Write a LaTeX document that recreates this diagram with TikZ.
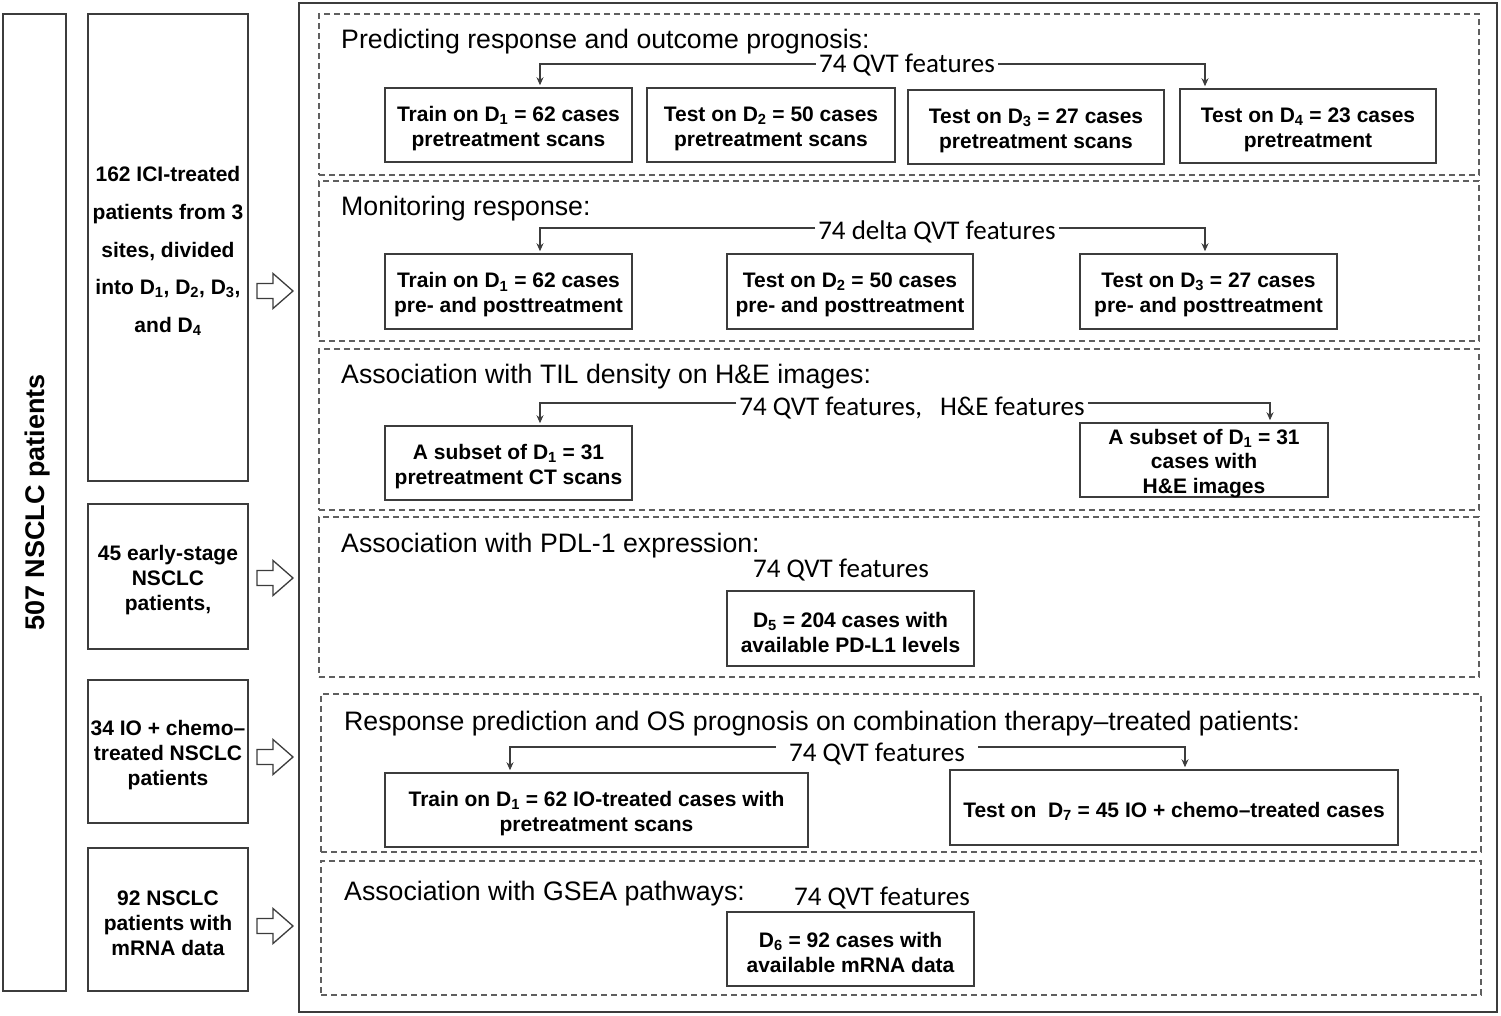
\documentclass[tikz,border=0pt]{standalone}
\usepackage{fontspec}
\setmainfont{Liberation Sans}
\newfontfamily\calfont{Carlito}
\usetikzlibrary{arrows.meta}
\definecolor{linec}{RGB}{60,60,60}
\definecolor{dashc}{RGB}{95,95,95}
\newcommand\Dsb[1]{D\textsubscript{#1}}
\newcommand\cbox[7][]{\node[#1, minimum width={(#5-#3)*1pt}, minimum height={(#6-#4)*1pt}] (#2) at ({(#3+#5)/2},{(#4+#6)/2}) {};
  \node[#1, draw=none, minimum width=0pt, minimum height=0pt] (#2t) at ([yshift=-3.5pt]#2.center) {#7};}
\newcommand\harrow[1]{\draw[hol] (257,{#1-7.5}) -- (273,{#1-7.5}) -- (273,{#1-17.5}) -- (293,#1) -- (273,{#1+17.5}) -- (273,{#1+7.5}) -- (257,{#1+7.5}) -- cycle;}
\begin{document}
\begin{tikzpicture}[x=1pt,y=-1pt,
  solidbox/.style={draw=linec, line width=1.5pt, inner sep=0pt, align=center, font=\bfseries\fontsize{21}{25}\selectfont},
  leftbox/.style={draw=linec, line width=1.5pt, inner sep=0pt, align=center, font=\bfseries\fontsize{21}{25}\selectfont},
  panel/.style={draw=dashc, line width=1.3pt, dash pattern=on 6pt off 4pt, inner sep=0pt},
  outer/.style={draw=linec, line width=2pt, inner sep=0pt},
  ttl/.style={anchor=base west, inner sep=0pt, font=\fontsize{26.7}{30}\selectfont},
  lab/.style={inner xsep=3pt, inner ysep=0pt, text height=17pt, text depth=0pt, font=\calfont\fontsize{27}{30}\selectfont},
  conn/.style={draw=linec, line width=1.2pt, -{Stealth[length=8pt,width=7pt]}, shorten >=2pt},
  hol/.style={draw=linec, line width=1.3pt, fill=white, line join=miter}
]
\useasboundingbox (0,0) rectangle (1501,1015);

% left column
\cbox[leftbox]{all}{3}{14}{66}{991}{}
\node[rotate=90, font=\bfseries\fontsize{27}{30}\selectfont] (alltxt) at ([xshift=3pt]all.center) {507 NSCLC patients};
\cbox[leftbox, font=\bfseries\fontsize{21}{37.7}\selectfont]{c1}{88}{14}{248}{481}{162 ICI-treated\\patients from 3\\sites, divided\\into \Dsb{1}, \Dsb{2}, \Dsb{3},\\and \Dsb{4}}
\cbox[leftbox]{c2}{88}{504}{248}{649}{45 early-stage\\NSCLC\\patients,}
\cbox[leftbox]{c3}{88}{680}{248}{823}{34 IO + chemo–\\treated NSCLC\\patients}
\cbox[leftbox]{c4}{88}{848}{248}{991}{92 NSCLC\\patients with\\mRNA data}

\harrow{291}
\harrow{578}
\harrow{757}
\harrow{926}

% outer frame
\cbox[outer]{frame}{299}{3}{1497}{1012}{}

% panel 1
\cbox[panel]{p1}{319}{14}{1479}{175}{}
\node[ttl] (t1) at (341,48) {Predicting response and outcome prognosis:};
\node[lab] (f1) at (907,64) {74 QVT features};
\cbox[solidbox]{b11}{385}{88}{632}{162}{Train on \Dsb{1} = 62 cases\\pretreatment scans}
\cbox[solidbox]{b12}{647}{88}{895}{162}{Test on \Dsb{2} = 50 cases\\pretreatment scans}
\cbox[solidbox]{b13}{908}{90}{1164}{164}{Test on \Dsb{3} = 27 cases\\pretreatment scans}
\cbox[solidbox]{b14}{1180}{89}{1436}{163}{Test on \Dsb{4} = 23 cases\\pretreatment}
\draw[conn] (f1.west) -| ([xshift=31.5pt]b11.north);
\draw[conn] (f1.east) -| ([xshift=-103pt]b14.north);

% panel 2
\cbox[panel]{p2}{319}{181}{1479}{341}{}
\node[ttl] (t2) at (341,215) {Monitoring response:};
\node[lab] (f2) at (937,231) {74 delta QVT features};
\cbox[solidbox]{b21}{385}{254}{632}{329}{Train on \Dsb{1} = 62 cases\\pre- and posttreatment}
\cbox[solidbox]{b22}{727}{254}{973}{329}{Test on \Dsb{2} = 50 cases\\pre- and posttreatment}
\cbox[solidbox]{b23}{1080}{254}{1337}{329}{Test on \Dsb{3} = 27 cases\\pre- and posttreatment}
\draw[conn] ([yshift=3pt]f2.west) -| ([xshift=31.5pt]b21.north);
\draw[conn] ([yshift=3pt]f2.east) -| ([xshift=-3.5pt]b23.north);

% panel 3
\cbox[panel]{p3}{319}{349}{1479}{510}{}
\node[ttl] (t3) at (341,383) {Association with TIL density on H\&E images:};
\node[lab] (f3) at (912,407) {74 QVT features,\hspace{18pt}H\&E features};
\cbox[solidbox]{b31}{385}{426}{632}{500}{A subset of \Dsb{1} = 31\\pretreatment CT scans}
\cbox[solidbox, font=\bfseries\fontsize{21}{24.5}\selectfont]{b32}{1080}{423}{1328}{497}{A subset of \Dsb{1} = 31\\cases with\\H\&E images}
\draw[conn] ([yshift=4pt]f3.west) -| ([xshift=31.5pt]b31.north);
\draw[conn] ([yshift=4pt]f3.east) -| ([xshift=66pt]b32.north);

% panel 4
\cbox[panel]{p4}{319}{517}{1479}{677}{}
\node[ttl] (t4) at (341,552) {Association with PDL-1 expression:};
\node[lab] (f4) at (841,569) {74 QVT features};
\cbox[solidbox]{b41}{727}{591}{974}{666}{\Dsb{5} = 204 cases with\\available PD-L1 levels}

% panel 5
\cbox[panel]{p5}{321}{694}{1481}{852}{}
\node[ttl] (t5) at (344,730) {Response prediction and OS prognosis on combination therapy–treated patients:};
\node[lab, inner xsep=13pt] (f5) at (877,753) {74 QVT features};
\cbox[solidbox]{b51}{385}{773}{808}{847}{Train on \Dsb{1} = 62 IO-treated cases with\\pretreatment scans}
\cbox[solidbox]{b52}{950}{770}{1398}{845}{Test on\ \ \Dsb{7} = 45 IO + chemo–treated cases}
\draw[conn] ([yshift=6pt]f5.west) -| ([xshift=-86.5pt]b51.north);
\draw[conn] ([yshift=6pt]f5.east) -| ([xshift=11pt]b52.north);

% panel 6
\cbox[panel]{p6}{321}{861}{1481}{995}{}
\node[ttl] (t6) at (344,900) {Association with GSEA pathways:};
\node[lab] (f6) at (882,897) {74 QVT features};
\cbox[solidbox]{b61}{727}{912}{974}{986}{\Dsb{6} = 92 cases with\\available mRNA data}
\end{tikzpicture}
\end{document}
